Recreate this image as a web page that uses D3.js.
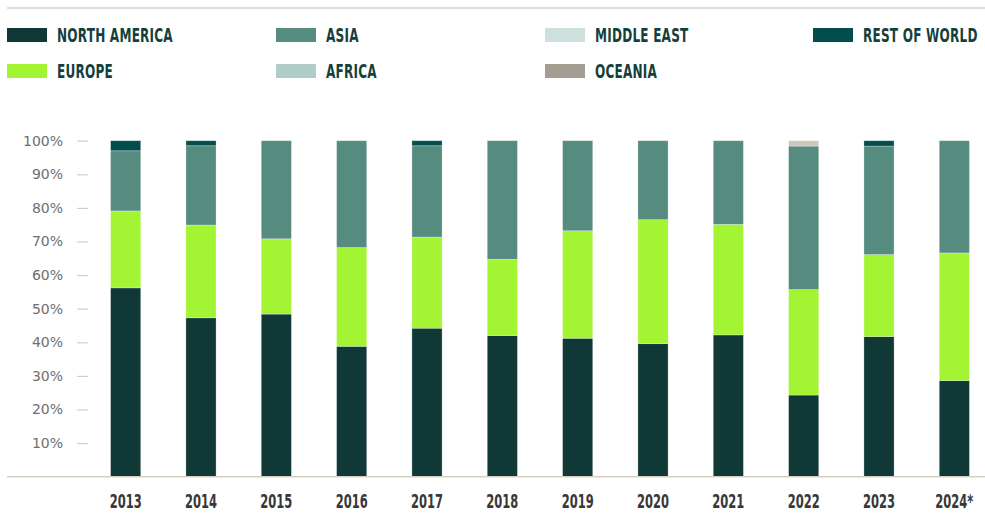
<!DOCTYPE html>
<html>
<head>
<meta charset="utf-8">
<script src="https://cdn.jsdelivr.net/npm/d3@7"></script>
<style>
  body { margin: 0; background: #fff; }
  svg { display: block; }
</style>
</head>
<body>
<div id="chart"></div>
<script>
// Data ---------------------------------------------------------------------------------------------------------------
const years = ["2013", "2014", "2015", "2016", "2017", "2018", "2019", "2020", "2021", "2022", "2023", "2024*"];
const regions = ["North America", "Europe", "Asia", "Africa", "Middle East", "Oceania", "Rest of World"];

const northAmerica = [56.2, 47.3, 48.4, 38.8, 44.2, 42.0, 41.2, 39.6, 42.2, 24.3, 41.7, 28.6];
const europe       = [22.9, 27.6, 22.4, 29.4, 27.1, 22.7, 32.0, 36.9, 32.9, 31.4, 24.4, 38.0];
const asia         = [17.9, 23.6, 29.2, 31.8, 27.2, 35.3, 26.8, 23.5, 24.9, 42.7, 32.3, 33.4];
const africa       = [0, 0, 0, 0, 0, 0, 0, 0, 0, 0, 0, 0];
const middleEast   = [0, 0, 0, 0, 0, 0, 0, 0, 0, 0, 0, 0];
const oceania      = [0, 0, 0, 0, 0, 0, 0, 0, 0, 1.6, 0, 0];
const restOfWorld  = [3.0, 1.5, 0, 0, 1.5, 0, 0, 0, 0, 0, 1.6, 0];

const yTicks = [10, 20, 30, 40, 50, 60, 70, 80, 90, 100];

const barColors    = ["#0f3836", "#a3f432", "#568b80", "#aecdc7", "#cde0de", "#d0c7ba", "#024e4c"];
const legendColors = ["#0f3836", "#a3f432", "#568b80", "#aecdc7", "#cde0de", "#a59d91", "#024e4c"];

const seriesValues = [northAmerica, europe, asia, africa, middleEast, oceania, restOfWorld];
const table = years.map((y, i) => {
  const row = { year: y };
  regions.forEach((r, j) => row[r] = seriesValues[j][i]);
  return row;
});

// Canvas -------------------------------------------------------------------------------------------------------------
const canvasWidth = 985;
const canvasHeight = 519;
const lineColor = "#d6cfc4";
const condensed = "'DejaVu Sans Condensed', 'Liberation Sans Narrow', sans-serif";

const svg = d3.select("#chart")
  .append("svg")
  .attr("width", canvasWidth)
  .attr("height", canvasHeight);

// top rule
svg.append("line")
  .attr("x1", 7).attr("x2", canvasWidth)
  .attr("y1", 8).attr("y2", 8)
  .style("stroke", lineColor)
  .style("stroke-width", 1.5);

// Legend -------------------------------------------------------------------------------------------------------------
const legendCols = [7, 276, 545, 813];
const legendRows = [28, 64];

const legend = svg.append("g").attr("class", "legend");
regions.forEach((r, i) => {
  const x = legendCols[Math.floor(i / 2)];
  const y = legendRows[i % 2];
  legend.append("rect")
    .attr("x", x).attr("y", y)
    .attr("width", 40).attr("height", 14)
    .attr("fill", legendColors[i]);
  legend.append("text")
    .text(r.toUpperCase())
    .attr("data-x", x + 50)
    .attr("data-y", y + 14)
    .style("font-family", condensed)
    .style("font-weight", "bold")
    .style("font-size", "19px")
    .style("letter-spacing", "0.3px")
    .style("fill", "#163f3c");
});

// squeeze the legend text so it looks like the narrow display face of the original
const legendTexts = legend.selectAll("text");
const legendSqueeze = 116 / legendTexts.node().getComputedTextLength();
legendTexts.attr("transform", function() {
  const t = d3.select(this);
  return "translate(" + t.attr("data-x") + "," + t.attr("data-y") + ") scale(" + legendSqueeze + ",1)";
});

// Scales & axes ------------------------------------------------------------------------------------------------------
const xScale = d3.scaleBand()
  .domain(years)
  .range([88, 992])
  .paddingInner(0.6)
  .paddingOuter(0.3);

const yScale = d3.scaleLinear()
  .domain([0, 100])
  .range([476.7, 140.7]);

const yAxis = svg.append("g")
  .attr("class", "axis")
  .attr("transform", "translate(88, 0)")
  .call(d3.axisLeft(yScale).tickValues(yTicks).tickSize(11).tickPadding(14).tickFormat(d => d + "%"));
yAxis.select(".domain").remove();
yAxis.selectAll("line")
  .style("stroke", lineColor)
  .style("stroke-width", 1.2);
yAxis.selectAll("text")
  .style("font-family", "'DejaVu Sans', sans-serif")
  .style("font-size", "14px")
  .style("fill", "#6e6e6e");

// Bars ---------------------------------------------------------------------------------------------------------------
const stacked = d3.stack().keys(regions)(table);

svg.append("g")
  .selectAll("g")
  .data(stacked)
  .join("g")
  .attr("fill", (d, i) => barColors[i])
  .selectAll("rect")
  .data(d => d.filter(s => s[1] - s[0] > 0))
  .join("rect")
  .attr("x", d => xScale(d.data.year))
  .attr("width", xScale.bandwidth())
  .attr("y", d => yScale(d[1]))
  .attr("height", d => yScale(d[0]) - yScale(d[1]))
  .style("stroke", "#ffffff")
  .style("stroke-opacity", 0.35)
  .style("stroke-width", 0.8);

// baseline
svg.append("line")
  .attr("x1", 7).attr("x2", canvasWidth)
  .attr("y1", yScale(0)).attr("y2", yScale(0))
  .style("stroke", lineColor)
  .style("stroke-width", 1.5);

const xAxis = svg.append("g")
  .attr("class", "axis")
  .attr("transform", "translate(0, " + yScale(0) + ")")
  .call(d3.axisBottom(xScale).tickSize(0).tickPadding(17));
xAxis.select(".domain").remove();
const xTexts = xAxis.selectAll("text")
  .style("font-family", condensed)
  .style("font-weight", "bold")
  .style("font-size", "20px")
  .style("fill", "#383838");
const xSqueeze = 32 / xTexts.node().getComputedTextLength();
xTexts.attr("transform", "scale(" + xSqueeze + ",1)");
</script>
</body>
</html>
